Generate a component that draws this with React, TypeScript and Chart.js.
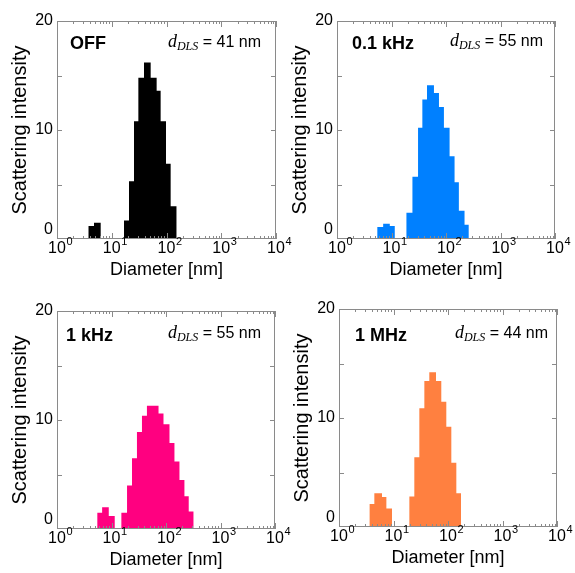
import { useEffect, useRef } from 'react';
import { Chart, registerables } from 'chart.js';

Chart.register(...registerables);

// ---- axis definitions ----
const xTickValues = [1, 10, 100, 1000, 10000];
const xTickBase = '10';
const xTickExponents = ['0', '1', '2', '3', '4'];
const xMinorMultipliers = [2, 3, 4, 5, 6, 7, 8, 9];
const yLabelValues = [0, 10, 20];
const yTickMarkValues = [5, 10, 15];

// ---- panel texts ----
const panelLabels = ['OFF', '0.1 kHz', '1 kHz', '1 MHz'];
const dlsValues = [41, 55, 55, 44];
const panelColors = ['#000000', '#0080ff', '#ff0080', '#ff8040'];

// ---- histogram data: bin edges (nm) and scattering intensity per bin ----
const edgesOff = [3.73, 4.74, 6.28, 16.75, 20.65, 25.47, 30.62, 38.82, 51.4, 66.07, 78.16, 97.95, 119.1, 153.5];
const valuesOff = [1.2, 1.5, 0, 1.7, 5.3, 10.8, 14.8, 16.2, 14.8, 13.6, 10.8, 6.9, 3.0];

const edges01k = [5.46, 7.03, 9.31, 11.48, 18.79, 24.21, 30.69, 36.81, 44.77, 60.12, 74.3, 91.6, 116.4, 143.6, 172.2, 218.8, 262.4];
const values01k = [1.1, 1.4, 1.2, 0, 2.4, 5.7, 10.2, 12.8, 14.1, 13.4, 12.1, 10.2, 7.6, 5.2, 2.6, 1.3];

const edges1k = [5.46, 6.73, 8.91, 11.46, 15.17, 19.28, 23.77, 29.31, 36.22, 44.67, 57.41, 72.95, 89.95, 115.9, 142.9, 176.6, 217.8, 261.2, 322.1];
const values1k = [1.5, 2.0, 1.2, 0, 1.5, 4.0, 6.5, 8.9, 10.4, 11.3, 11.3, 10.6, 9.6, 7.9, 6.2, 4.5, 3.0, 1.6];

const edges1M = [3.61, 4.45, 6.15, 7.4, 9.38, 19.54, 24.1, 29.79, 36.81, 45.39, 60.26, 75.34, 93.11, 115.1, 142.2, 173.4];
const values1M = [2.1, 3.1, 2.75, 1.7, 0, 2.8, 6.4, 10.9, 13.4, 14.2, 13.4, 11.5, 9.2, 5.9, 3.1];

const panelEdges = [edgesOff, edges01k, edges1k, edges1M];
const panelValues = [valuesOff, values01k, values1k, values1M];

// ---- layout ----
const FONT = '"Liberation Sans", Arial, Helvetica, sans-serif';
const SERIF = '"Liberation Serif", "Times New Roman", serif';
const CW = 293;
const CH = 282;
const AREA_LEFT = 57;
const AREA_TOP = 21;
const AREA_H = 218;
const FRAME = '#8a8a8a';

const layouts = [
  { left: 0, top: 0, w: 219, lx: 13, ly: 28, dr: 15, dy: 26 },
  { left: 280, top: 0, w: 218, lx: 15, ly: 28, dr: 12, dy: 25 },
  { left: 0, top: 290, w: 218, lx: 9, ly: 30, dr: 14, dy: 27 },
  { left: 282, top: 288, w: 218, lx: 16, ly: 32, dr: 9, dy: 29 },
];

const decorPlugin = {
  id: 'decor',
  afterDraw(chart: any) {
    const opts = chart.options.plugins.decor;
    const { ctx, chartArea: a, scales } = chart;
    const xs = scales.x;
    const ys = scales.y;
    ctx.save();
    ctx.strokeStyle = FRAME;
    ctx.lineWidth = 1;
    ctx.strokeRect(a.left + 0.5, a.top + 0.5, a.right - a.left - 1, a.bottom - a.top - 1);
    ctx.beginPath();
    // x ticks, inward on bottom and top
    for (let k = 0; k < xTickValues.length; k++) {
      const dec = xTickValues[k];
      const px = Math.round(xs.getPixelForValue(dec)) + 0.5;
      ctx.moveTo(px, a.bottom);
      ctx.lineTo(px, a.bottom - 6);
      ctx.moveTo(px, a.top);
      ctx.lineTo(px, a.top + 6);
      if (k < xTickValues.length - 1) {
        for (const m of xMinorMultipliers) {
          const mx = Math.round(xs.getPixelForValue(dec * m)) + 0.5;
          ctx.moveTo(mx, a.bottom);
          ctx.lineTo(mx, a.bottom - 3);
          ctx.moveTo(mx, a.top);
          ctx.lineTo(mx, a.top + 3);
        }
      }
    }
    // y ticks, inward on left and right
    for (const v of yTickMarkValues) {
      const py = Math.round(ys.getPixelForValue(v)) + 0.5;
      ctx.moveTo(a.left, py);
      ctx.lineTo(a.left + 5, py);
      ctx.moveTo(a.right, py);
      ctx.lineTo(a.right - 5, py);
    }
    ctx.stroke();

    ctx.fillStyle = '#000';
    ctx.textBaseline = 'alphabetic';

    // x tick labels: 10 with superscript exponent, base centred on the tick
    for (let k = 0; k < xTickValues.length; k++) {
      const px = xs.getPixelForValue(xTickValues[k]);
      ctx.font = `16px ${FONT}`;
      const wb = ctx.measureText(xTickBase).width;
      ctx.textAlign = 'left';
      ctx.fillText(xTickBase, px - wb / 2, a.bottom + 14);
      ctx.font = `11px ${FONT}`;
      ctx.fillText(xTickExponents[k], px + wb / 2 + 0.5, a.bottom + 6);
    }

    // panel label
    ctx.textAlign = 'left';
    ctx.font = `bold 18px ${FONT}`;
    ctx.fillText(opts.label, a.left + opts.lx, a.top + opts.ly);

    // d_DLS = xx nm
    const rest = ` = ${opts.dls} nm`;
    ctx.font = `italic 18px ${SERIF}`;
    const wd = ctx.measureText('d').width;
    ctx.font = `italic 12px ${SERIF}`;
    const ws = ctx.measureText('DLS').width;
    ctx.font = `16px ${FONT}`;
    const wr = ctx.measureText(rest).width;
    let x = a.right - opts.dr - (wd + ws + wr);
    const y = a.top + opts.dy;
    ctx.font = `italic 18px ${SERIF}`;
    ctx.fillText('d', x, y);
    x += wd;
    ctx.font = `italic 12px ${SERIF}`;
    ctx.fillText('DLS', x, y + 3);
    x += ws;
    ctx.font = `16px ${FONT}`;
    ctx.fillText(rest, x, y);
    ctx.restore();
  },
};

function Panel({ index }: { index: number }) {
  const ref = useRef<HTMLCanvasElement>(null);
  const lay = layouts[index];
  useEffect(() => {
    const canvas = ref.current;
    if (!canvas) return;
    const edges = panelEdges[index];
    const values = panelValues[index];
    const color = panelColors[index];
    const points = edges.map((e, i) => ({ x: e, y: i < values.length ? values[i] : 0 }));
    const chart = new Chart(canvas, {
      type: 'line',
      data: {
        datasets: [
          {
            data: points,
            stepped: 'before',
            fill: 'origin',
            backgroundColor: color,
            borderColor: 'rgba(0,0,0,0)',
            borderWidth: 0,
            pointRadius: 0,
            pointHoverRadius: 0,
          } as any,
        ],
      },
      options: {
        responsive: false,
        animation: false,
        devicePixelRatio: 1,
        events: [],
        layout: {
          padding: { left: 0, top: AREA_TOP, right: CW - AREA_LEFT - lay.w, bottom: 0 },
        },
        plugins: {
          legend: { display: false },
          tooltip: { enabled: false },
          decor: { label: panelLabels[index], dls: dlsValues[index], lx: lay.lx, ly: lay.ly, dr: lay.dr, dy: lay.dy },
        } as any,
        scales: {
          x: {
            type: 'logarithmic',
            min: 1,
            max: 10000,
            afterBuildTicks: (s: any) => {
              s.ticks = xTickValues.map((v) => ({ value: v, major: true }));
            },
            ticks: { display: false },
            grid: { display: false, drawTicks: false },
            border: { display: false },
            title: {
              display: true,
              text: 'Diameter [nm]',
              color: '#000',
              font: { size: 18, family: FONT },
              padding: { top: 0, bottom: 1 },
            },
            afterFit: (s: any) => {
              s.height = CH - AREA_TOP - AREA_H;
              s.paddingLeft = 0;
              s.paddingRight = 0;
            },
          },
          y: {
            type: 'linear',
            min: 0,
            max: 20,
            afterBuildTicks: (s: any) => {
              s.ticks = yLabelValues.map((v) => ({ value: v }));
            },
            ticks: {
              padding: 4,
              color: '#000',
              font: { size: 16, family: FONT },
              callback: (v: any) => (Number(v) === 0 ? ['0', ''] : String(v)),
            },
            grid: { display: false, drawTicks: false },
            border: { display: false },
            title: {
              display: true,
              text: 'Scattering intensity',
              color: '#000',
              font: { size: 20, family: FONT },
              padding: { top: 8, bottom: 0 },
            },
            afterFit: (s: any) => {
              s.width = AREA_LEFT;
              s.paddingTop = 0;
              s.paddingBottom = 0;
            },
          },
        } as any,
      },
      plugins: [decorPlugin],
    });
    return () => chart.destroy();
  }, [index]);
  return (
    <canvas
      ref={ref}
      width={CW}
      height={CH}
      style={{ position: 'absolute', left: lay.left, top: lay.top, width: CW, height: CH }}
    />
  );
}

export default function App() {
  return (
    <div
      style={{
        position: 'absolute',
        left: 0,
        top: 0,
        width: 575,
        height: 573,
        overflow: 'hidden',
        background: '#fff',
      }}
    >
      {[0, 1, 2, 3].map((i) => (
        <Panel key={i} index={i} />
      ))}
    </div>
  );
}
